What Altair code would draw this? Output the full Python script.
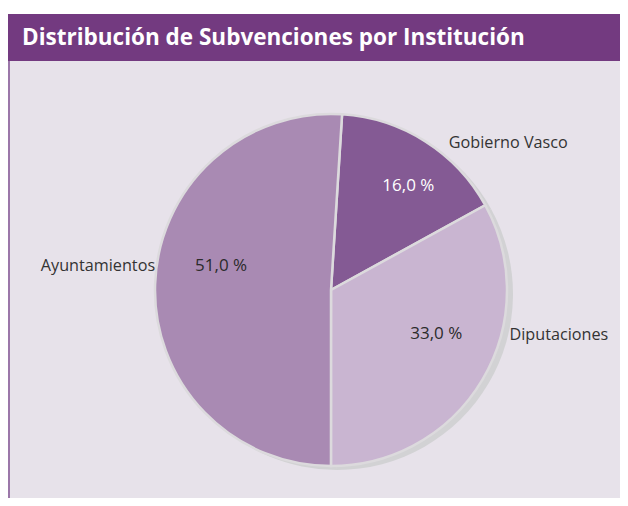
import math
import altair as alt
import pandas as pd

# ---- data ----
institutions = ["Gobierno Vasco", "Diputaciones", "Ayuntamientos"]
values = [16.0, 33.0, 51.0]
pct_labels = ["16,0 %", "33,0 %", "51,0 %"]
slice_colors = ["#845a94", "#c9b5d1", "#a98ab3"]
title_text = "Distribución de Subvenciones por Institución"

df = pd.DataFrame({
    "inst": institutions,
    "val": values,
    "pct": pct_labels,
    "ord": list(range(len(institutions))),
})
one = pd.DataFrame({"k": [0]})

W, H = 612, 490
CX, CY = 323, 282
R = 176
OFF = 0.063
FONT = "Open Sans"

theta_scale = alt.Scale(domain=[0, 100], range=[OFF, OFF + 2 * math.pi])
theta_enc = alt.Theta("val:Q", stack=True, scale=theta_scale)
color_enc = alt.Color("inst:N", scale=alt.Scale(domain=institutions, range=slice_colors), legend=None)

base = alt.Chart(df).encode(theta=theta_enc, order=alt.Order("ord:Q"))

# label base: mid angle of each slice computed before filtering
lab = alt.Chart(df).transform_window(
    cum="sum(val)", sort=[alt.SortField("ord")], frame=[None, 0]
).transform_calculate(mid="datum.cum - datum.val / 2").encode(
    theta=alt.Theta("mid:Q", stack=False, scale=theta_scale),
    x=alt.value(CX), y=alt.value(CY),
)

# background panels
bg = alt.Chart(one).mark_rect(color="#e7e2ea").encode(
    x=alt.value(0), x2=alt.value(W), y=alt.value(53), y2=alt.value(H))
leftline = alt.Chart(one).mark_rect(color="#9b77a9").encode(
    x=alt.value(0), x2=alt.value(2), y=alt.value(53), y2=alt.value(H))
titlebar = alt.Chart(one).mark_rect(color="#733a80").encode(
    x=alt.value(-1), x2=alt.value(W), y=alt.value(6), y2=alt.value(53))
title = alt.Chart(one).mark_text(
    text=title_text, color="white", font=FONT, fontSize=22.5, fontWeight="bold",
    align="left", baseline="middle").encode(x=alt.value(14), y=alt.value(30))

shadow = base.mark_arc(outerRadius=R, color="#d2d2d4").encode(
    x=alt.value(CX + 6), y=alt.value(CY + 4))
pie = base.mark_arc(outerRadius=R, stroke="#dcdadd", strokeWidth=2.5).encode(
    color=color_enc, x=alt.value(CX), y=alt.value(CY))

def pct_layer(name, dx, dy, col):
    return lab.transform_filter(alt.datum.inst == name).mark_text(
        radius=120, font=FONT, fontSize=17, color=col, dx=dx, dy=dy, baseline="middle"
    ).encode(text="pct:N")

def name_layer(name, dx, dy, align):
    return lab.transform_filter(alt.datum.inst == name).mark_text(
        radius=190, font=FONT, fontSize=16.2, color="#333333", dx=dx, dy=dy, align=align,
        baseline="middle"
    ).encode(text="inst:N")

layers = [
    bg, leftline, titlebar, title, shadow, pie,
    pct_layer("Gobierno Vasco", 13, -3, "white"),
    pct_layer("Diputaciones", 2, -17, "#2b2b2b"),
    pct_layer("Ayuntamientos", 10, -20, "#2b2b2b"),
    name_layer("Gobierno Vasco", 16, 13, "left"),
    name_layer("Diputaciones", 15, -52, "left"),
    name_layer("Ayuntamientos", 14, -18, "right"),
]

chart = alt.layer(*layers).properties(
    width=W, height=H, padding=0, autosize=alt.AutoSizeParams(type="none")
).configure_view(stroke=None, strokeWidth=0)

chart.save("out.html", embed_options={"renderer": "svg", "actions": False})
